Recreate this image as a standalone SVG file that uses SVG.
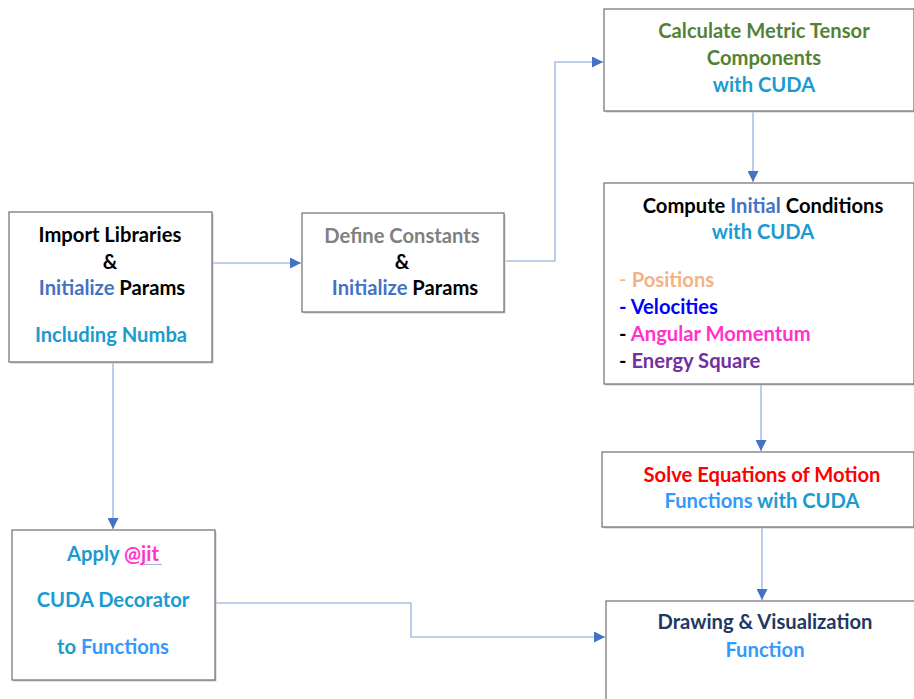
<svg xmlns="http://www.w3.org/2000/svg" width="914" height="699" viewBox="0 0 914 699">
<style>
.box{fill:#fff;stroke:#6e6e6e;stroke-width:1.2}
.sh{fill:#c9c9c9}
text{font-family:Lato,"Open Sans","Liberation Sans",sans-serif;font-weight:bold;font-size:20.2px;text-anchor:middle}
.l{text-anchor:start}
.bk{fill:#000}
.bl{fill:#4472c4}
.cy{fill:#1a9bd0}
.lb{fill:#3399ff}
.gr{fill:#808080}
.gn{fill:#548235}
.or{fill:#f4b183}
.vb{fill:#0000ff}
.pk{fill:#ff33cc}
.pu{fill:#7030a0}
.rd{fill:#ff0000}
.nv{fill:#1f3864}
.cn{fill:none;stroke:#aac0e6;stroke-width:1.6}
</style>
<defs>
<marker id="ah" viewBox="0 0 10 10" refX="10" refY="5" markerWidth="11" markerHeight="11" markerUnits="userSpaceOnUse" orient="auto">
<path d="M0,0 L10,5 L0,10 z" fill="#4472c4"/>
</marker>
</defs>

<g id="connectors">
<path class="cn" d="M212,263 H301" marker-end="url(#ah)"/>
<path class="cn" d="M506,261 H555 V62 H603" marker-end="url(#ah)"/>
<path class="cn" d="M753,111 V182" marker-end="url(#ah)"/>
<path class="cn" d="M761,384 V451" marker-end="url(#ah)"/>
<path class="cn" d="M762,527 V600" marker-end="url(#ah)"/>
<path class="cn" d="M113,362 V529" marker-end="url(#ah)"/>
<path class="cn" d="M215,603 H411 V637 H605" marker-end="url(#ah)"/>
</g>

<g id="n1">
<rect class="sh" x="10.5" y="213.5" width="203" height="150"/>
<rect class="box" x="9" y="212" width="203" height="150"/>
<text x="110" y="242" class="bk">Import Libraries</text>
<text x="110" y="269" class="bk">&amp;</text>
<text x="112" y="295"><tspan class="bl">Initialize</tspan><tspan class="bk"> Params</tspan></text>
<text x="111" y="342" class="cy">Including Numba</text>
</g>

<g id="n2">
<rect class="sh" x="303.5" y="214.5" width="202" height="99"/>
<rect class="box" x="302" y="213" width="202" height="99"/>
<text x="402" y="243" class="gr">Define Constants</text>
<text x="402" y="269" class="bk">&amp;</text>
<text x="405" y="295"><tspan class="bl">Initialize</tspan><tspan class="bk"> Params</tspan></text>
</g>

<g id="n3">
<rect class="sh" x="605.5" y="10.5" width="310" height="102"/>
<rect class="box" x="604" y="9" width="310" height="102"/>
<text x="764" y="38" class="gn">Calculate Metric Tensor</text>
<text x="764" y="65" class="gn">Components</text>
<text x="764" y="92" class="cy">with CUDA</text>
</g>

<g id="n4">
<rect class="sh" x="605.5" y="184.5" width="310" height="201"/>
<rect class="box" x="604" y="183" width="310" height="201"/>
<text x="763" y="213"><tspan class="bk">Compute </tspan><tspan class="bl">Initial</tspan><tspan class="bk"> Conditions</tspan></text>
<text x="763" y="239" class="cy">with CUDA</text>
<text x="619" y="287" class="l or"><tspan font-weight="normal">- </tspan>Positions</text>
<text x="619" y="314" class="l vb">- Velocities</text>
<text x="619" y="341" class="l"><tspan class="bk">- </tspan><tspan class="pk">Angular Momentum</tspan></text>
<text x="619" y="368" class="l"><tspan class="bk">- </tspan><tspan class="pu">Energy Square</tspan></text>
</g>

<g id="n5">
<rect class="sh" x="603.5" y="453.5" width="312" height="75"/>
<rect class="box" x="602" y="452" width="312" height="75"/>
<text x="762" y="482" class="rd">Solve Equations of Motion</text>
<text x="762" y="508"><tspan class="lb">Functions</tspan><tspan class="cy"> with CUDA</tspan></text>
</g>

<g id="n6">
<rect class="sh" x="607.5" y="602.5" width="310" height="110"/>
<rect class="box" x="606" y="601" width="310" height="110"/>
<text x="765" y="629" class="nv">Drawing &amp; Visualization</text>
<text x="765" y="657" class="lb">Function</text>
</g>

<g id="n7">
<rect class="sh" x="13.5" y="531.5" width="203" height="150"/>
<rect class="box" x="12" y="530" width="203" height="150"/>
<text x="113" y="561"><tspan class="cy">Apply </tspan><tspan class="pk">@jit</tspan></text>
<line x1="143" y1="564.5" x2="162" y2="564.5" stroke="#b0a8e0" stroke-width="1"/>
<text x="113" y="607" class="cy">CUDA Decorator</text>
<text x="113" y="654"><tspan class="cy">to </tspan><tspan class="lb">Functions</tspan></text>
</g>
</svg>
